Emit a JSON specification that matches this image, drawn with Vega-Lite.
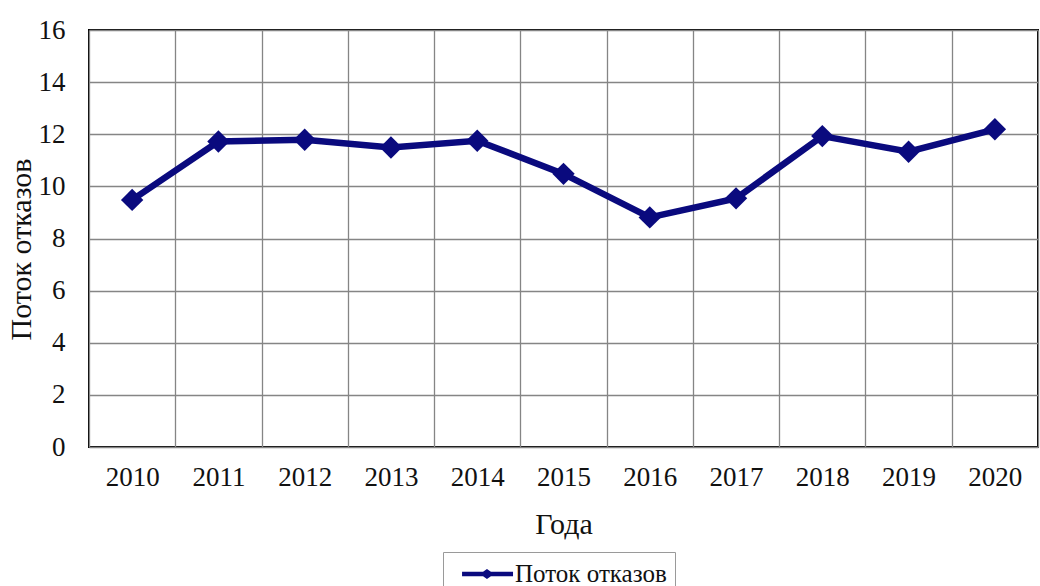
{
  "$schema": "https://vega.github.io/schema/vega-lite/v6.json",
  "width": 949,
  "height": 417,
  "autosize": {"type": "none"},
  "padding": {"left": 89, "top": 30, "right": 2, "bottom": 139},
  "background": "white",
  "data": {
    "values": [
      {"year": "2010", "value": 9.48, "series": "Поток отказов"},
      {"year": "2011", "value": 11.72, "series": "Поток отказов"},
      {"year": "2012", "value": 11.79, "series": "Поток отказов"},
      {"year": "2013", "value": 11.49, "series": "Поток отказов"},
      {"year": "2014", "value": 11.75, "series": "Поток отказов"},
      {"year": "2015", "value": 10.48, "series": "Поток отказов"},
      {"year": "2016", "value": 8.81, "series": "Поток отказов"},
      {"year": "2017", "value": 9.54, "series": "Поток отказов"},
      {"year": "2018", "value": 11.93, "series": "Поток отказов"},
      {"year": "2019", "value": 11.33, "series": "Поток отказов"},
      {"year": "2020", "value": 12.19, "series": "Поток отказов"}
    ]
  },
  "mark": {
    "type": "line",
    "strokeWidth": 6.5,
    "point": {"shape": "diamond", "size": 500, "filled": true, "opacity": 1}
  },
  "encoding": {
    "x": {
      "field": "year",
      "type": "ordinal",
      "bandPosition": 0.5,
      "scale": {"type": "band", "paddingInner": 0, "paddingOuter": 0},
      "axis": {
        "title": "Года",
        "labelAngle": 0,
        "grid": true,
        "tickBand": "extent",
        "ticks": false,
        "domain": false,
        "labelPadding": 17,
        "titleY": 86,
        "titleBaseline": "alphabetic"
      }
    },
    "y": {
      "field": "value",
      "type": "quantitative",
      "scale": {"domain": [0, 16], "nice": false, "zero": true},
      "axis": {
        "title": "Поток отказов",
        "values": [0, 2, 4, 6, 8, 10, 12, 14, 16],
        "grid": true,
        "ticks": false,
        "domain": false,
        "labelPadding": 24,
        "titleX": -59,
        "titleY": 219,
        "titleBaseline": "alphabetic"
      }
    },
    "color": {
      "field": "series",
      "type": "nominal",
      "scale": {"range": ["#0a0a7e"]},
      "legend": {
        "title": null,
        "orient": "none",
        "legendX": 354,
        "legendY": 522,
        "symbolType": "M-0.21,-0.16L1.29,-0.16L1.57,-0.36L1.85,-0.16L3.43,-0.16L3.43,0.16L1.85,0.16L1.57,0.36L1.29,0.16L-0.21,0.16Z",
        "symbolSize": 784,
        "symbolStrokeWidth": 0,
        "symbolFillColor": "#0a0a7e",
        "labelFontSize": 25,
        "labelOffset": 36,
        "padding": 8,
        "strokeColor": "#9a9a9a",
        "fillColor": "white"
      }
    }
  },
  "config": {
    "font": "Liberation Serif",
    "view": {"stroke": "#000000", "strokeWidth": 2},
    "axis": {
      "labelFont": "Liberation Serif",
      "labelFontSize": 27,
      "labelColor": "#111111",
      "titleFont": "Liberation Serif",
      "titleFontSize": 30,
      "titleFontWeight": "normal",
      "titleColor": "#111111",
      "gridColor": "#858585",
      "gridWidth": 1.3,
      "gridOpacity": 1
    },
    "legend": {
      "labelFont": "Liberation Serif",
      "labelColor": "#111111"
    }
  }
}
